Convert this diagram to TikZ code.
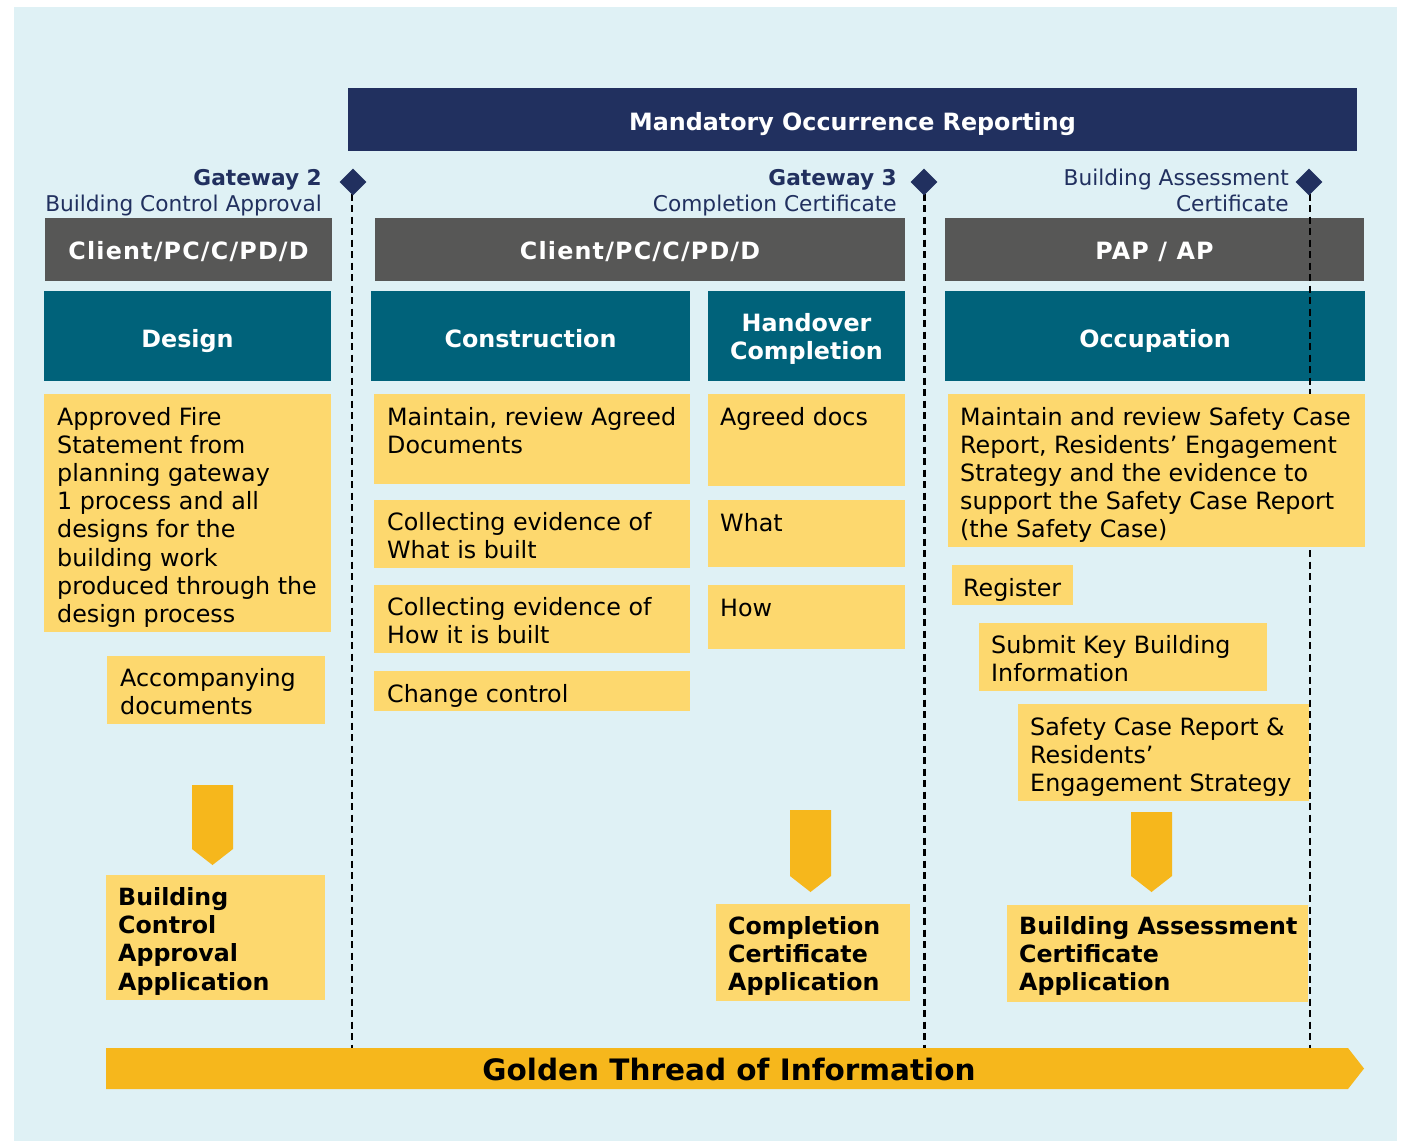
\documentclass[tikz,border=0pt]{standalone}
\usepackage{fontspec}
\setmainfont{DejaVu Sans}
\definecolor{bgc}{HTML}{DFF1F5}
\definecolor{navyc}{HTML}{21305F}
\definecolor{greyc}{HTML}{575756}
\definecolor{tealc}{HTML}{00627A}
\definecolor{yelc}{HTML}{FDD86E}
\definecolor{goldc}{HTML}{F6B71C}
\newcommand\rbox[6]{\node[#1, anchor=north west, minimum width={(#5-#3)*1pt}, minimum height={(#6-#4)*1pt}] (#2) at (#3,#4) {};}
\tikzset{
  box/.style={inner sep=0pt, outer sep=0pt, draw=none},
  ybox/.style={box, fill=yelc},
  gbox/.style={box, fill=greyc},
  tbox/.style={box, fill=tealc},
  nbox/.style={box, fill=navyc},
  body/.style={inner sep=0pt, anchor=north west, yshift=19.74pt, align=left, font=\fontsize{23.8}{28.2}\selectfont, text=black, execute at begin node=\strut},
  bbody/.style={body, font=\fontsize{23.7}{28.2}\selectfont\bfseries},
  head/.style={inner sep=0pt, anchor=north, yshift=19.6pt, align=center, font=\fontsize{23.8}{28}\selectfont\bfseries, text=white, execute at begin node=\strut},
  lhead/.style={head, font=\fontsize{23.8}{28}\selectfont\bfseries\addfontfeatures{LetterSpace=5}},
  gate/.style={inner sep=0pt, anchor=base east, align=right, text=navyc, font=\fontsize{21.7}{26}\selectfont},
  gline/.style={line width=2.8pt, dash pattern=on 7pt off 4.5pt, black},
  diam/.style={fill=navyc, inner sep=0pt, shape=rectangle, rotate=45, minimum size=18.8pt},
  darrow/.style={fill=goldc}
}
\begin{document}
\begin{tikzpicture}[x=1pt,y=-1pt]
\useasboundingbox (0,0) rectangle (1404,1141);
\fill[bgc] (14,7) rectangle (1397,1141);
% top bar
\rbox{nbox}{mor}{348}{88}{1357}{151}
\node[head] at (852.5,130) {Mandatory Occurrence Reporting};
% grey bars
\rbox{gbox}{g1}{45}{218}{332}{281}
\rbox{gbox}{g2}{375}{218}{905}{281}
\rbox{gbox}{g3}{945}{218}{1364}{281}
\node[lhead] at (188.5,259) {Client/PC/C/PD/D};
\node[lhead] at (640,259) {Client/PC/C/PD/D};
\node[lhead] at (1154.5,259) {PAP / AP};
% teal bars
\rbox{tbox}{t1}{44}{291}{331}{381}
\rbox{tbox}{t2}{371}{291}{690}{381}
\rbox{tbox}{t3}{708}{291}{905}{381}
\rbox{tbox}{t4}{945}{291}{1365}{381}
\node[head] at (187.5,347) {Design};
\node[head] at (530.5,347) {Construction};
\node[head] at (806.5,333) {Handover\\Completion};
\node[head] at (1155,347) {Occupation};
% gateways
\coordinate (c1) at (352,182);
\coordinate (c2) at (924.5,182);
\coordinate (c3) at (1310,182);
\coordinate (e1) at (352,1048);
\coordinate (e2) at (924.5,1048);
\coordinate (e3) at (1310,1048);
\draw[gline] (c1) -- (e1);
\draw[gline] (c2) -- (e2);
\draw[gline] (c3) -- (e3);
\node[diam] (dm1) at (353,182) {};
\node[diam] (dm2) at (924,182) {};
\node[diam] (dm3) at (1309,182) {};
\node[gate, font=\fontsize{21.7}{26}\selectfont\bfseries] (gw2) at (322,185) {Gateway 2};
\node[gate] (gw2b) at (322,211) {Building Control Approval};
\node[gate, font=\fontsize{21.7}{26}\selectfont\bfseries] (gw3) at (897,185) {Gateway 3};
\node[gate] (gw3b) at (897,211) {Completion Certificate};
\node[gate] (gw4) at (1289,185) {Building Assessment};
\node[gate] (gw4b) at (1289,211) {Certificate};
% yellow boxes
\rbox{ybox}{y1}{44}{394}{331}{632}
\rbox{ybox}{y2}{107}{656}{325}{724}
\rbox{ybox}{y3}{374}{394}{690}{484}
\rbox{ybox}{y4}{374}{500}{690}{568}
\rbox{ybox}{y5}{374}{585}{690}{653}
\rbox{ybox}{y6}{374}{671}{690}{711}
\rbox{ybox}{y7}{708}{394}{905}{486}
\rbox{ybox}{y8}{708}{500}{905}{567}
\rbox{ybox}{y9}{708}{585}{905}{649}
\rbox{ybox}{y10}{948}{394}{1365}{547}
\rbox{ybox}{y11}{952}{565}{1073}{605}
\rbox{ybox}{y12}{979}{623}{1267}{691}
\rbox{ybox}{y13}{1018}{704}{1309}{801}
\rbox{ybox}{y14}{106}{875}{325}{1000}
\rbox{ybox}{y15}{716}{904}{910}{1001}
\rbox{ybox}{y16}{1007}{905}{1308}{1002}
\node[body] at (57,426.5) {Approved Fire\\Statement from\\planning gateway\\1 process and all\\designs for the\\building work\\produced through the\\design process};
\node[body] at (120,687.5) {Accompanying\\documents};
\node[body] at (387,426.5) {Maintain, review Agreed\\Documents};
\node[body] at (387,531.5) {Collecting evidence of\\What is built};
\node[body] at (387,616.5) {Collecting evidence of\\How it is built};
\node[body] at (387,702) {Change control};
\node[body] at (720,425.5) {Agreed docs};
\node[body] at (720,531.5) {What};
\node[body] at (720,616.5) {How};
\node[body] at (960,426.5) {Maintain and review Safety Case\\Report, Residents’ Engagement\\Strategy and the evidence to\\support the Safety Case Report\\(the Safety Case)};
\node[body] at (963,596) {Register};
\node[body] at (991,654.5) {Submit Key Building\\Information};
\node[body] at (1030,736.5) {Safety Case Report \&\\Residents’\\Engagement Strategy};
\node[bbody] at (118,907) {Building\\Control\\Approval\\Application};
\node[bbody] at (728,936) {Completion\\Certificate\\Application};
\node[bbody] at (1019,936) {Building Assessment\\Certificate\\Application};
% down arrows
\fill[darrow] (192,785) -- (233,785) -- (233,849) -- (212.5,865) -- (192,849) -- cycle;
\fill[darrow] (790,810) -- (831,810) -- (831,876) -- (810.5,892) -- (790,876) -- cycle;
\fill[darrow] (1131,812) -- (1172,812) -- (1172,876) -- (1151.5,892) -- (1131,876) -- cycle;
% golden thread
\fill[darrow] (106,1048) -- (1348,1048) -- (1364,1068.5) -- (1348,1089) -- (106,1089) -- cycle;
\node[inner sep=0pt, font=\fontsize{29.5}{34}\selectfont\bfseries, text=black] (gt) at (729,1069) {Golden Thread of Information};
\end{tikzpicture}
\end{document}
